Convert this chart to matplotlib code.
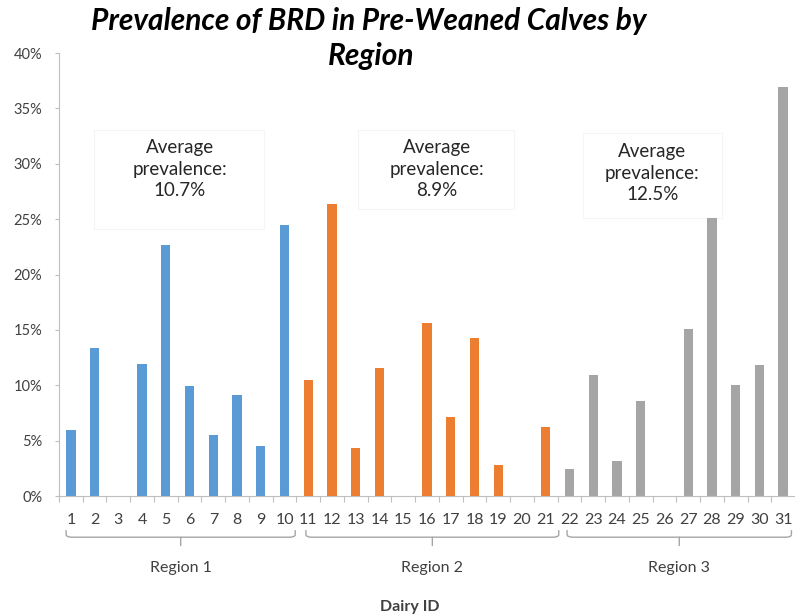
import numpy as np
import matplotlib
matplotlib.use("Agg")
import matplotlib.pyplot as plt
from matplotlib.patches import Rectangle
from matplotlib.path import Path
from matplotlib.patches import PathPatch
import matplotlib.transforms as mtransforms

plt.rcParams['font.family'] = ['Lato', 'DejaVu Sans']

# dairy IDs and prevalence (fraction) per region
region1_ids = list(range(1, 11))
region1_vals = [0.060, 0.134, 0.0, 0.119, 0.227, 0.099, 0.055, 0.091, 0.045, 0.245]
region2_ids = list(range(11, 22))
region2_vals = [0.105, 0.264, 0.043, 0.116, 0.0, 0.156, 0.071, 0.143, 0.028, 0.0, 0.062]
region3_ids = list(range(22, 32))
region3_vals = [0.024, 0.109, 0.032, 0.086, 0.0, 0.151, 0.251, 0.100, 0.118, 0.369]

region_names = ['Region 1', 'Region 2', 'Region 3']
region_avgs = ['10.7%', '8.9%', '12.5%']
colors = ['#5B9BD5', '#ED7D31', '#A5A5A5']

text_col = '#404040'
axis_col = '#BFBFBF'

fig = plt.figure(figsize=(7.95, 6.16), dpi=100)
ax = fig.add_axes([59/795, 1-496/616, 736/795, 443/616])

for ids, vals, c in zip([region1_ids, region2_ids, region3_ids],
                        [region1_vals, region2_vals, region3_vals], colors):
    ax.bar(ids, vals, width=0.39, color=c, zorder=2)

ax.set_xlim(0.5, 31.5)
ax.set_ylim(0, 0.40)

# y axis
ax.set_yticks(np.arange(0, 0.41, 0.05))
ax.set_yticklabels(['%d%%' % v for v in range(0, 41, 5)])
ax.tick_params(axis='y', length=3, width=0.8, color=axis_col, pad=9,
               labelsize=10.5, labelcolor=text_col)

# x axis: labels at bars, tick marks between categories
all_ids = region1_ids + region2_ids + region3_ids
ax.set_xticks(all_ids)
ax.set_xticklabels([str(i) for i in all_ids])
ax.set_xticks(np.arange(0.5, 31.6, 1), minor=True)
ax.tick_params(axis='x', which='major', length=0, pad=12.5,
               labelsize=11.5, labelcolor=text_col)
ax.tick_params(axis='x', which='minor', length=4.5, width=0.8, color=axis_col)

for s in ['top', 'right']:
    ax.spines[s].set_visible(False)
ax.spines['left'].set_color(axis_col)
ax.spines['bottom'].set_color(axis_col)
ax.spines['left'].set_linewidth(0.8)
ax.spines['bottom'].set_linewidth(0.8)

# braces under the tick labels
trans = mtransforms.blended_transform_factory(ax.transData, ax.transAxes)
brace_spans = [(0.8, 10.45), (10.9, 21.55), (21.9, 31.35)]
y_top, y_mid, y_bot = -0.077, -0.093, -0.113
r = 0.25
for (x0, x1), name in zip(brace_spans, region_names):
    xc = (x0 + x1) / 2
    verts = [(x0, y_top), (x0, y_mid + 0.006), (x0, y_mid), (x0 + r, y_mid),
             (xc, y_mid), (xc, y_bot), (xc, y_mid),
             (x1 - r, y_mid), (x1, y_mid), (x1, y_mid + 0.006), (x1, y_top)]
    codes = [Path.MOVETO, Path.LINETO, Path.CURVE3, Path.CURVE3,
             Path.LINETO, Path.LINETO, Path.MOVETO,
             Path.LINETO, Path.CURVE3, Path.CURVE3, Path.LINETO]
    ax.add_patch(PathPatch(Path(verts, codes), transform=trans, fill=False,
                           edgecolor='#A6A6A6', lw=1.0, clip_on=False))
    ax.text(xc, -0.163, name, transform=trans, ha='center', va='center',
            fontsize=11.5, color=text_col)

ax.text(0.476, -0.251, 'Dairy ID', transform=ax.transAxes, ha='center',
        va='center', fontsize=11.5, fontweight='bold', color=text_col)

# average prevalence boxes (sit behind the bars)
boxes = [(0.0475, 0.603, 0.2305, 0.223), (0.4057, 0.648, 0.213, 0.178),
         (0.7123, 0.6275, 0.189, 0.1915)]
text_pos = [(0.164, 0.738), (0.513, 0.738), (0.806, 0.729)]
for (bx, by, bw, bh), (tx, ty), avg in zip(boxes, text_pos, region_avgs):
    ax.add_patch(Rectangle((bx, by), bw, bh, transform=ax.transAxes,
                           facecolor='white', edgecolor='#F5F5F5', lw=0.8, zorder=1))
    ax.text(tx, ty, 'Average\nprevalence:\n' + avg, transform=ax.transAxes,
            ha='center', va='center', fontsize=13.5, color='#262626',
            linespacing=1.35, zorder=4)

fig.text(0.4635, 1-30/616, 'Prevalence of BRD in Pre-Weaned Calves by',
         ha='center', va='baseline', fontsize=21.5, fontweight='bold',
         fontstyle='italic', color='black')
fig.text(0.467, 1-65/616, 'Region', ha='center', va='baseline', fontsize=21.5,
         fontweight='bold', fontstyle='italic', color='black')

fig.savefig('out.png', dpi=100)
